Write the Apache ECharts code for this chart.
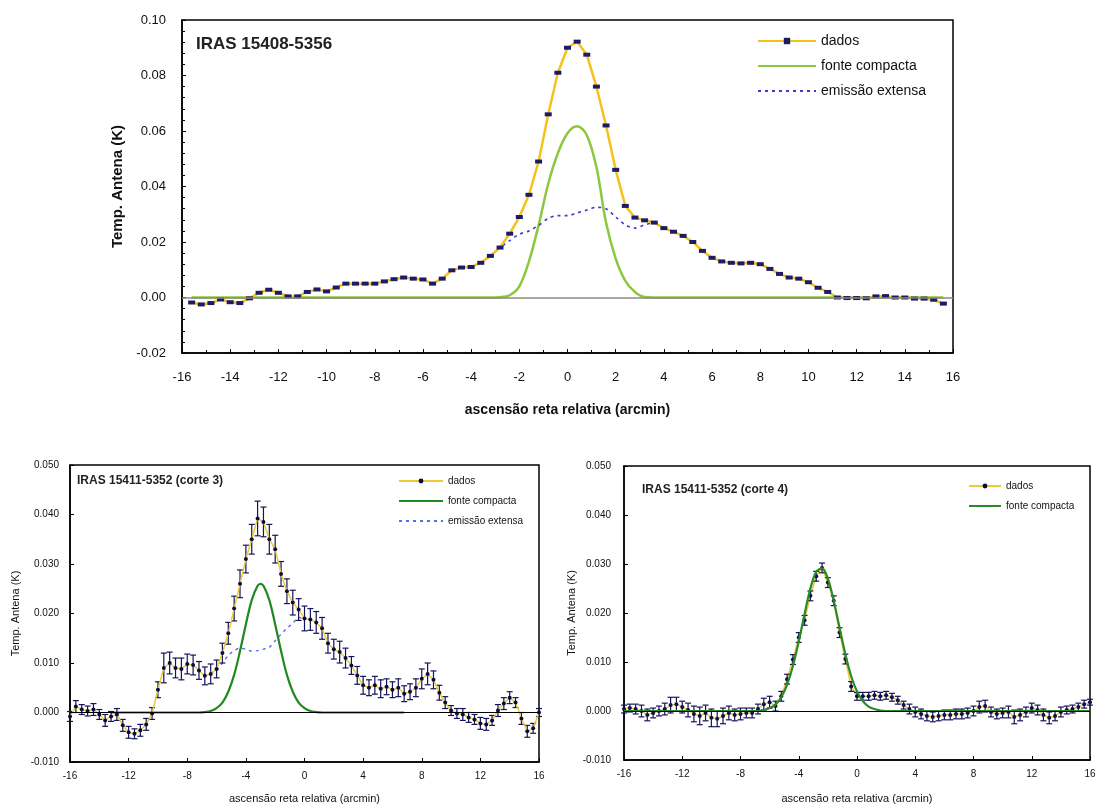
<!DOCTYPE html>
<html>
<head>
<meta charset="utf-8">
<script src="https://cdn.jsdelivr.net/npm/echarts@6/dist/echarts.min.js"></script>
<style>
  html, body { margin: 0; padding: 0; background: #fff; }
  .layer { position: absolute; left: 0; top: 0; width: 1105px; height: 805px; }
</style>
</head>
<body>
<div id="top" class="layer"></div>
<div id="c3" class="layer"></div>
<div id="c4" class="layer"></div>
<script>
// ---------- IRAS 15408-5356 (scan sampled every 0.4 arcmin from -15.6) ----------
const topStart = -15.6, topStep = 0.4;
const topDados = [
  -0.0018, -0.0025, -0.002, -0.0007, -0.0017, -0.002, -0.0003, 0.0017, 0.0028, 0.0017,
  0.0004, 0.0004, 0.002, 0.0029, 0.0022, 0.0036, 0.005, 0.005, 0.005, 0.005,
  0.0058, 0.0066, 0.0072, 0.0068, 0.0065, 0.005, 0.0068, 0.0098, 0.0108, 0.011,
  0.0125, 0.015, 0.018, 0.023, 0.029, 0.037, 0.049, 0.066, 0.081, 0.090,
  0.0922, 0.0875, 0.076, 0.062, 0.046, 0.033, 0.0288, 0.0278, 0.027, 0.025,
  0.0237, 0.0222, 0.020, 0.0168, 0.0143, 0.013, 0.0125, 0.0123, 0.0125, 0.012,
  0.0103, 0.0085, 0.0072, 0.0068, 0.0055, 0.0035, 0.002, 0.0, -0.0002, -0.0002,
  -0.0003, 0.0004, 0.0005, 0.0, 0.0, -0.0004, -0.0004, -0.0008, -0.0022
];
const topCompactX = [-15.6, -4.0, -3.2, -2.8, -2.4, -2.0, -1.6, -1.2, -0.8, -0.4, 0.0, 0.4, 0.8, 1.2, 1.6, 2.0, 2.4, 2.8, 3.2, 4.0, 15.6];
const topCompactY = [0, 0, 0, 0.0001, 0.0008, 0.004, 0.013, 0.026, 0.041, 0.052, 0.0592, 0.0617, 0.0585, 0.047, 0.027, 0.014, 0.006, 0.002, 0.0002, 0, 0];
const topExtX = [-3.6, -3.2, -2.8, -2.4, -2.0, -1.6, -1.2, -0.8, -0.4, 0.0, 0.4, 0.8, 1.2, 1.6, 2.0, 2.4, 2.8, 3.2, 3.6];
const topExtY = [0.0125, 0.015, 0.018, 0.0205, 0.0228, 0.024, 0.026, 0.0285, 0.0295, 0.0295, 0.0305, 0.0315, 0.0325, 0.032, 0.029, 0.0262, 0.025, 0.0262, 0.027];

// ---------- IRAS 15411-5352 corte 3 (sampled every 0.4 arcmin from -16) ----------
const c3Start = -16, c3Step = 0.4;
const c3Dados = [
  -0.0008, 0.0012, 0.0006, 0.0003, 0.0006, -0.0004, -0.0016, -0.0008, -0.0004, -0.0026,
  -0.0040, -0.0043, -0.0036, -0.0024, -0.0002, 0.0046, 0.0090, 0.0100, 0.0090, 0.0088,
  0.0098, 0.0096, 0.0085, 0.0074, 0.0078, 0.0088, 0.0120, 0.0160, 0.0210, 0.0260,
  0.0310, 0.0350, 0.0392, 0.0385, 0.0350, 0.0330, 0.0280, 0.0245, 0.0222, 0.0208,
  0.0190, 0.0188, 0.0182, 0.0170, 0.0140, 0.0128, 0.0122, 0.0110, 0.0095, 0.0075,
  0.0055, 0.0050, 0.0055, 0.0048, 0.0052, 0.0046, 0.0050, 0.0038, 0.0042, 0.0050,
  0.0068, 0.0078, 0.0066, 0.0040, 0.0020, 0.0004, -0.0002, -0.0004, -0.0010, -0.0014,
  -0.0022, -0.0024, -0.0016, 0.0004, 0.0018, 0.0030, 0.0020, -0.0012, -0.0038, -0.0032,
  0.0000
];
const c3Err = [
  0.0010, 0.0012, 0.0010, 0.0010, 0.0012, 0.0010, 0.0012, 0.0010, 0.0012, 0.0012,
  0.0012, 0.0010, 0.0012, 0.0012, 0.0012, 0.0016, 0.0030, 0.0022, 0.0020, 0.0022,
  0.0020, 0.0020, 0.0018, 0.0018, 0.0020, 0.0018, 0.0020, 0.0022, 0.0025, 0.0028,
  0.0028, 0.0030, 0.0035, 0.0030, 0.0030, 0.0028, 0.0025, 0.0025, 0.0025, 0.0022,
  0.0025, 0.0022, 0.0022, 0.0022, 0.0020, 0.0020, 0.0022, 0.0020, 0.0018, 0.0018,
  0.0018, 0.0016, 0.0018, 0.0018, 0.0016, 0.0016, 0.0018, 0.0016, 0.0016, 0.0018,
  0.0020, 0.0022, 0.0018, 0.0015, 0.0012, 0.0010, 0.0010, 0.0012, 0.0010, 0.0010,
  0.0012, 0.0012, 0.0010, 0.0012, 0.0012, 0.0012, 0.0010, 0.0012, 0.0012, 0.0010,
  0.0008
];
const c3CompactX = [-13.2, -7.2, -6.8, -6.4, -6.0, -5.6, -5.2, -4.8, -4.4, -4.0, -3.6, -3.2, -3.0, -2.8, -2.4, -2.0, -1.6, -1.2, -0.8, -0.4, 0.0, 0.4, 0.8, 1.2, 6.8];
const c3CompactY = [0, 0, 0.0001, 0.0003, 0.0009, 0.0020, 0.0042, 0.0076, 0.0124, 0.0178, 0.0227, 0.0256, 0.0260, 0.0256, 0.0227, 0.0178, 0.0124, 0.0076, 0.0042, 0.0020, 0.0009, 0.0003, 0.0001, 0, 0];
const c3ExtX = [-6.4, -6.0, -5.6, -5.2, -4.8, -4.4, -4.0, -3.6, -3.2, -2.8, -2.4, -2.0, -1.6, -1.2, -0.8, -0.4, 0.0];
const c3ExtY = [0.0078, 0.0085, 0.0100, 0.0115, 0.0125, 0.0130, 0.0128, 0.0124, 0.0125, 0.0128, 0.0132, 0.0145, 0.0158, 0.0170, 0.0180, 0.0192, 0.0190];

// ---------- IRAS 15411-5352 corte 4 (sampled every 0.4 arcmin from -16) ----------
const c4Start = -16, c4Step = 0.4;
const c4Dados = [
  0.0004, 0.0006, 0.0004, 0.0000, -0.0008, -0.0004, 0.0000, 0.0004, 0.0012, 0.0014,
  0.0008, 0.0002, -0.0006, -0.0010, -0.0004, -0.0014, -0.0016, -0.0010, -0.0004, -0.0008,
  -0.0006, -0.0004, -0.0004, 0.0004, 0.0014, 0.0018, 0.0010, 0.0030, 0.0065, 0.0105,
  0.0150, 0.0185, 0.0235, 0.0275, 0.0292, 0.0262, 0.0225, 0.0160, 0.0106, 0.0050,
  0.0030, 0.0030, 0.0030, 0.0032, 0.0030, 0.0032, 0.0028, 0.0022, 0.0012, 0.0004,
  -0.0002, -0.0006, -0.0010, -0.0012, -0.0010, -0.0008, -0.0008, -0.0006, -0.0006, -0.0004,
  0.0000, 0.0008, 0.0010, -0.0002, -0.0006, -0.0004, -0.0002, -0.0012, -0.0008, -0.0002,
  0.0006, 0.0002, -0.0008, -0.0014, -0.0010, -0.0002, 0.0002, 0.0004, 0.0008, 0.0014,
  0.0018
];
const c4Err = [
  0.0008, 0.0008, 0.0010, 0.0012, 0.0012, 0.0010, 0.0010, 0.0012, 0.0016, 0.0014,
  0.0012, 0.0014, 0.0016, 0.0018, 0.0016, 0.0018, 0.0016, 0.0016, 0.0014, 0.0012,
  0.0012, 0.0010, 0.0010, 0.0010, 0.0012, 0.0012, 0.0010, 0.0010, 0.0010, 0.0010,
  0.0010, 0.0010, 0.0010, 0.0010, 0.0010, 0.0010, 0.0010, 0.0010, 0.0010, 0.0010,
  0.0008, 0.0008, 0.0008, 0.0008, 0.0008, 0.0008, 0.0008, 0.0008, 0.0008, 0.0010,
  0.0010, 0.0010, 0.0010, 0.0010, 0.0010, 0.0010, 0.0010, 0.0010, 0.0010, 0.0010,
  0.0010, 0.0012, 0.0012, 0.0010, 0.0010, 0.0010, 0.0012, 0.0014, 0.0012, 0.0010,
  0.0010, 0.0010, 0.0012, 0.0012, 0.0010, 0.0010, 0.0008, 0.0008, 0.0008, 0.0008,
  0.0006
];
const c4CompactX = [-16, -6.8, -6.4, -6.0, -5.6, -5.2, -4.8, -4.4, -4.0, -3.6, -3.2, -2.8, -2.4, -2.0, -1.6, -1.2, -0.8, -0.4, 0.0, 0.4, 0.8, 1.2, 1.6, 2.0, 16];
const c4CompactY = [0, 0, 0.0002, 0.0006, 0.0013, 0.0028, 0.0054, 0.0092, 0.0142, 0.0198, 0.0250, 0.0284, 0.0291, 0.0270, 0.0225, 0.0170, 0.0116, 0.0071, 0.0040, 0.0020, 0.0009, 0.0004, 0.0001, 0, 0];

// tick label texts
const topXTicks = ['-16', '-14', '-12', '-10', '-8', '-6', '-4', '-2', '0', '2', '4', '6', '8', '10', '12', '14', '16'];
const topYTicks = ['-0.02', '0.00', '0.02', '0.04', '0.06', '0.08', '0.10'];
const lowXTicks = ['-16', '-12', '-8', '-4', '0', '4', '8', '12', '16'];
const lowYTicks = ['-0.010', '0.000', '0.010', '0.020', '0.030', '0.040', '0.050'];

const FONT = '"Liberation Sans", Arial, sans-serif';
const xName = 'ascensão reta relativa (arcmin)';
const yName = 'Temp. Antena (K)';

function pairs(start, step, ys) {
  return ys.map((y, i) => [+(start + step * i).toFixed(2), y]);
}
function zip(xs, ys) { return xs.map((x, i) => [x, ys[i]]); }
function withErr(start, step, ys, es) {
  return ys.map((y, i) => [+(start + step * i).toFixed(2), y, es[i]]);
}
function tickText(list, min, step) {
  return v => {
    const k = Math.round((v - min) / step);
    return list[k] !== undefined ? list[k] : '';
  };
}
function errorBars(data, color, cap) {
  return {
    type: 'custom', data: data, z: 3, silent: true,
    encode: { x: 0, y: 1 },
    renderItem: (params, api) => {
      const x = api.value(0), y = api.value(1), e = api.value(2);
      const hi = api.coord([x, y + e]);
      const lo = api.coord([x, y - e]);
      const st = { stroke: color, lineWidth: 1.2 };
      return {
        type: 'group',
        children: [
          { type: 'line', shape: { x1: hi[0], y1: hi[1], x2: lo[0], y2: lo[1] }, style: st },
          { type: 'line', shape: { x1: hi[0] - cap, y1: hi[1], x2: hi[0] + cap, y2: hi[1] }, style: st },
          { type: 'line', shape: { x1: lo[0] - cap, y1: lo[1], x2: lo[0] + cap, y2: lo[1] }, style: st }
        ]
      };
    }
  };
}
function axes(o) {
  return {
    xAxis: {
      type: 'value', min: -16, max: 16, interval: o.xInt,
      name: xName, nameLocation: 'middle', nameGap: o.xNameGap,
      nameTextStyle: { fontFamily: FONT, fontSize: o.xNameSize, fontWeight: o.nameWeight, color: '#111' },
      axisLine: { onZero: false, lineStyle: { color: '#000', width: 1.5 } },
      axisTick: { inside: true, length: 4, lineStyle: { color: '#000' } },
      minorTick: { show: o.xMinor > 1, splitNumber: o.xMinor, length: 3, lineStyle: { color: '#000' } },
      axisLabel: { fontFamily: FONT, fontSize: o.tickSize, color: '#111', margin: o.xLabelMargin,
        formatter: tickText(o.xTicks, -16, o.xInt) },
      splitLine: { show: false }
    },
    yAxis: {
      type: 'value', min: o.yMin, max: o.yMax, interval: o.yInt,
      name: yName, nameLocation: 'middle', nameGap: o.yNameGap,
      nameTextStyle: { fontFamily: FONT, fontSize: o.yNameSize, fontWeight: o.nameWeight, color: '#111' },
      axisLine: { onZero: false, lineStyle: { color: '#000', width: 1.5 } },
      axisTick: { inside: true, length: 4, lineStyle: { color: '#000' } },
      minorTick: { show: o.yMinor > 1, splitNumber: o.yMinor, length: 3, lineStyle: { color: '#000' } },
      axisLabel: { fontFamily: FONT, fontSize: o.tickSize, color: '#111', margin: o.yLabelMargin,
        formatter: tickText(o.yTicks, o.yMin, o.yInt) },
      splitLine: { show: false }
    }
  };
}
function zeroLine(color, width) {
  return {
    type: 'line', data: [], silent: true, z: 1,
    markLine: { silent: true, symbol: 'none', label: { show: false },
      lineStyle: { color: color, type: 'solid', width: width }, data: [{ yAxis: 0 }] }
  };
}
// legend entry showing only the line (no marker)
function lineOnly(name) { return { name: name, itemStyle: { opacity: 0 } }; }

// ---------- top panel ----------
const topChart = echarts.init(document.getElementById('top'), null, { renderer: 'canvas' });
topChart.setOption(Object.assign({
  animation: false,
  backgroundColor: '#fff',
  grid: { left: 182, top: 20, width: 771, height: 333, show: true, borderColor: '#000', borderWidth: 1.5, backgroundColor: 'transparent' },
  legend: {
    left: 752, top: 29, orient: 'vertical', itemWidth: 58, itemHeight: 8, itemGap: 11,
    data: ['dados', lineOnly('fonte compacta'), lineOnly('emissão extensa')],
    textStyle: { fontFamily: FONT, fontSize: 14, color: '#111' }
  },
  graphic: [{ type: 'text', left: 196, top: 36, style: { text: 'IRAS 15408-5356', font: 'bold 17px ' + FONT, fill: '#222' } }],
  series: [
    zeroLine('#8a8a8a', 1.5),
    { name: 'fonte compacta', type: 'line', data: zip(topCompactX, topCompactY), smooth: 0.35,
      showSymbol: false, symbol: 'none', lineStyle: { color: '#8DC63F', width: 2.5 }, itemStyle: { color: '#8DC63F' }, z: 2 },
    { name: 'emissão extensa', type: 'line', data: zip(topExtX, topExtY), smooth: 0.3,
      showSymbol: false, symbol: 'none', lineStyle: { color: '#3b3bd0', width: 1.6, type: [3, 4] }, itemStyle: { color: '#3b3bd0' }, z: 3 },
    { name: 'dados', type: 'line', data: pairs(topStart, topStep, topDados),
      symbol: 'rect', symbolSize: [7, 4], showAllSymbol: true,
      lineStyle: { color: '#F5C21B', width: 2.5 }, itemStyle: { color: '#1B1B66', borderWidth: 0 }, z: 4 }
  ]
}, axes({
  xInt: 2, xMinor: 2, xTicks: topXTicks, xNameGap: 50, xNameSize: 14, xLabelMargin: 18,
  yMin: -0.02, yMax: 0.10, yInt: 0.02, yMinor: 5, yTicks: topYTicks, yNameGap: 57, yNameSize: 15, yLabelMargin: 16,
  tickSize: 13, nameWeight: 'bold'
})));

// ---------- lower left panel (corte 3) ----------
const c3Chart = echarts.init(document.getElementById('c3'));
c3Chart.setOption(Object.assign({
  animation: false,
  grid: { left: 70, top: 465, width: 469, height: 297, show: true, borderColor: '#000', borderWidth: 1.5 },
  legend: {
    left: 393, top: 471, orient: 'vertical', itemWidth: 44, itemHeight: 6, itemGap: 10,
    data: ['dados', lineOnly('fonte compacta'), lineOnly('emissão extensa')],
    textStyle: { fontFamily: FONT, fontSize: 10, color: '#111' }
  },
  graphic: [{ type: 'text', left: 77, top: 475, style: { text: 'IRAS 15411-5352 (corte 3)', font: 'bold 12px ' + FONT, fill: '#222' } }],
  series: [
    zeroLine('#000', 1.2),
    { name: 'fonte compacta', type: 'line', data: zip(c3CompactX, c3CompactY), smooth: 0.35,
      showSymbol: false, symbol: 'none', lineStyle: { color: '#1E8A1E', width: 2.2 }, itemStyle: { color: '#1E8A1E' }, z: 2 },
    { name: 'emissão extensa', type: 'line', data: zip(c3ExtX, c3ExtY), smooth: 0.3,
      showSymbol: false, symbol: 'none', lineStyle: { color: '#5a6ee0', width: 1.4, type: [3, 4] }, itemStyle: { color: '#5a6ee0' }, z: 2 },
    { name: 'dados', type: 'line', data: pairs(c3Start, c3Step, c3Dados),
      symbol: 'circle', symbolSize: 4, showAllSymbol: true,
      lineStyle: { color: '#EBCB3A', width: 1.5 }, itemStyle: { color: '#0c0c3a', borderWidth: 0 }, z: 4 },
    errorBars(withErr(c3Start, c3Step, c3Dados, c3Err), '#14145a', 3)
  ]
}, axes({
  xInt: 4, xMinor: 1, xTicks: lowXTicks, xNameGap: 31, xNameSize: 11, xLabelMargin: 9,
  yMin: -0.01, yMax: 0.05, yInt: 0.01, yMinor: 1, yTicks: lowYTicks, yNameGap: 49, yNameSize: 11, yLabelMargin: 11,
  tickSize: 10, nameWeight: 'normal'
})));

// ---------- lower right panel (corte 4) ----------
const c4Chart = echarts.init(document.getElementById('c4'));
c4Chart.setOption(Object.assign({
  animation: false,
  grid: { left: 624, top: 466, width: 466, height: 295, show: true, borderColor: '#000', borderWidth: 1.5 },
  legend: {
    left: 963, top: 476, orient: 'vertical', itemWidth: 32, itemHeight: 6, itemGap: 10,
    data: ['dados', lineOnly('fonte compacta')],
    textStyle: { fontFamily: FONT, fontSize: 10, color: '#111' }
  },
  graphic: [{ type: 'text', left: 642, top: 484, style: { text: 'IRAS 15411-5352 (corte 4)', font: 'bold 12px ' + FONT, fill: '#222' } }],
  series: [
    zeroLine('#000', 1.2),
    { name: 'dados', type: 'line', data: pairs(c4Start, c4Step, c4Dados),
      symbol: 'circle', symbolSize: 4, showAllSymbol: true,
      lineStyle: { color: '#EBCB3A', width: 1.5 }, itemStyle: { color: '#0c0c3a', borderWidth: 0 }, z: 2 },
    errorBars(withErr(c4Start, c4Step, c4Dados, c4Err), '#14145a', 3),
    { name: 'fonte compacta', type: 'line', data: zip(c4CompactX, c4CompactY), smooth: 0.35,
      showSymbol: false, symbol: 'none', lineStyle: { color: '#2A8A2A', width: 2.2 }, itemStyle: { color: '#2A8A2A' }, z: 4 }
  ]
}, axes({
  xInt: 4, xMinor: 1, xTicks: lowXTicks, xNameGap: 33, xNameSize: 11, xLabelMargin: 9,
  yMin: -0.01, yMax: 0.05, yInt: 0.01, yMinor: 1, yTicks: lowYTicks, yNameGap: 47, yNameSize: 11, yLabelMargin: 13,
  tickSize: 10, nameWeight: 'normal'
})));
</script>
</body>
</html>
